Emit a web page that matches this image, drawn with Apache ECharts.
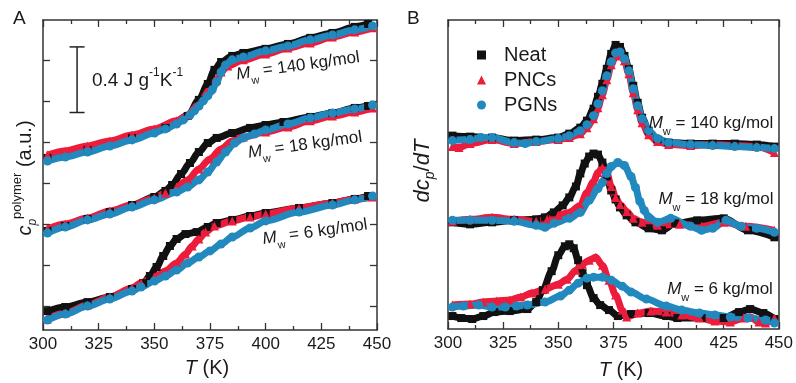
<!DOCTYPE html>
<html><head><meta charset="utf-8">
<script src="https://cdn.jsdelivr.net/npm/echarts@6/dist/echarts.min.js"></script>
<style>html,body{margin:0;padding:0;background:#fff}#c{width:796px;height:383px}</style>
</head><body><div id="c"></div>
<script>
// ---------- data (T in K, values in a.u.) ----------
const xTicks = [300, 325, 350, 375, 400, 425, 450];
const yTicksA = [0, 0.25, 0.5, 0.75, 1.0, 1.25, 1.5];
const seriesNames = ['Neat', 'PNCs', 'PGNs'];
const mwLabels = ['140', '18', '6'];

// Panel A: c_p (J g^-1 K^-1, offset curves)
const a140Neat = [[302,0.903],[320,0.952],[340,1.025],[355,1.086],[365,1.159],[370,1.257],[374,1.354],[377,1.440],[380,1.488],[385,1.525],[390,1.543],[400,1.568],[410,1.598],[420,1.635],[430,1.665],[440,1.702],[446,1.720]];
const a140PNC = [[302,0.921],[310,0.946],[320,0.976],[330,1.007],[340,1.043],[350,1.080],[360,1.129],[365,1.165],[370,1.232],[375,1.318],[378,1.379],[380,1.427],[383,1.464],[390,1.501],[400,1.537],[410,1.574],[420,1.604],[430,1.641],[440,1.671],[448,1.696]];
const a140PGN = [[302,0.884],[310,0.909],[320,0.939],[330,0.976],[340,1.013],[350,1.055],[355,1.080],[360,1.110],[363,1.135],[366,1.165],[368,1.190],[370,1.220],[372,1.251],[374,1.281],[376,1.318],[378,1.366],[380,1.427],[382,1.470],[385,1.501],[390,1.519],[400,1.556],[410,1.586],[420,1.623],[430,1.653],[440,1.684],[448,1.708]];

const a18Neat = [[302,0.458],[310,0.488],[320,0.531],[330,0.573],[340,0.616],[350,0.665],[355,0.702],[358,0.738],[362,0.805],[366,0.872],[370,0.939],[374,0.994],[378,1.025],[385,1.055],[393,1.086],[400,1.104],[408,1.122],[420,1.153],[430,1.177],[440,1.208],[446,1.220]];
const a18PNC = [[302,0.470],[310,0.500],[320,0.537],[330,0.580],[340,0.616],[350,0.659],[355,0.689],[360,0.726],[365,0.769],[370,0.836],[375,0.897],[380,0.958],[385,1.007],[390,1.031],[400,1.061],[410,1.092],[420,1.129],[430,1.159],[440,1.183],[448,1.208]];
const a18PGN = [[302,0.445],[310,0.482],[320,0.525],[330,0.561],[340,0.604],[350,0.647],[360,0.695],[365,0.726],[370,0.769],[374,0.817],[378,0.878],[382,0.939],[386,0.994],[390,1.025],[395,1.049],[400,1.074],[410,1.110],[420,1.147],[430,1.177],[440,1.202],[448,1.226]];

const a6Neat = [[302,-0.031],[310,-0.006],[320,0.024],[330,0.055],[340,0.104],[345,0.140],[348,0.183],[351,0.238],[354,0.305],[357,0.366],[360,0.409],[364,0.439],[369,0.451],[374,0.482],[378,0.506],[385,0.525],[393,0.549],[400,0.567],[415,0.598],[430,0.628],[440,0.653],[446,0.671]];
const a6PNC = [[302,-0.079],[310,-0.043],[320,0.006],[330,0.055],[340,0.110],[344,0.140],[350,0.177],[355,0.214],[360,0.262],[364,0.317],[367,0.366],[370,0.409],[373,0.451],[377,0.488],[385,0.519],[393,0.543],[400,0.561],[415,0.598],[430,0.628],[440,0.653],[448,0.665]];
const a6PGN = [[302,-0.085],[310,-0.049],[320,0.000],[330,0.043],[340,0.092],[344,0.116],[350,0.153],[355,0.183],[360,0.220],[365,0.262],[370,0.299],[375,0.336],[380,0.378],[385,0.421],[393,0.476],[400,0.519],[415,0.573],[430,0.616],[440,0.647],[448,0.671]];

// Panel B: dc_p/dT (a.u., offset curves)
const b140Neat = [[302,1.94],[310,1.93],[320,1.92],[330,1.89],[340,1.90],[350,1.92],[355,1.96],[360,2.02],[363,2.09],[366,2.21],[368,2.33],[370,2.46],[372,2.61],[374,2.76],[376,2.85],[378,2.83],[380,2.74],[382,2.61],[384,2.44],[386,2.27],[388,2.12],[391,1.99],[395,1.90],[400,1.87],[410,1.86],[420,1.86],[430,1.86],[440,1.85],[448,1.83]];
const b140PNC = [[302,1.83],[305,1.82],[310,1.86],[320,1.90],[330,1.86],[340,1.88],[350,1.90],[355,1.92],[360,1.96],[363,2.02],[366,2.11],[368,2.22],[370,2.35],[372,2.50],[374,2.65],[376,2.74],[378,2.76],[380,2.69],[382,2.56],[384,2.37],[386,2.20],[388,2.07],[391,1.95],[395,1.88],[400,1.85],[410,1.84],[420,1.85],[430,1.84],[440,1.83],[448,1.77]];
const b140PGN = [[302,1.89],[310,1.90],[315,1.92],[320,1.92],[330,1.87],[335,1.86],[340,1.88],[350,1.91],[355,1.94],[360,1.99],[363,2.05],[366,2.14],[368,2.26],[370,2.39],[372,2.54],[374,2.68],[376,2.77],[378,2.78],[380,2.71],[382,2.59],[384,2.41],[386,2.24],[388,2.11],[391,1.99],[395,1.91],[400,1.87],[410,1.85],[420,1.84],[430,1.83],[440,1.82],[448,1.81]];

const b18Neat = [[302,1.07],[310,1.05],[320,1.07],[330,1.09],[340,1.10],[344,1.12],[348,1.17],[352,1.24],[355,1.32],[358,1.43],[360,1.56],[362,1.66],[364,1.73],[366,1.76],[368,1.75],[370,1.67],[372,1.53],[374,1.39],[376,1.30],[378,1.22],[381,1.14],[385,1.07],[391,1.01],[397,0.99],[403,1.06],[413,1.09],[425,1.11],[436,0.99],[448,0.92]];
const b18PNC = [[302,1.08],[310,1.10],[320,1.12],[330,1.10],[340,1.08],[345,1.10],[350,1.14],[355,1.17],[360,1.24],[363,1.37],[366,1.48],[368,1.57],[370,1.62],[372,1.57],[374,1.43],[376,1.32],[378,1.25],[381,1.18],[384,1.11],[388,1.07],[395,1.04],[405,1.05],[415,1.03],[425,1.07],[435,1.03],[448,0.99]];
const b18PGN = [[302,1.09],[310,1.09],[320,1.09],[330,1.08],[340,1.04],[344,1.02],[348,1.06],[355,1.11],[360,1.17],[364,1.29],[368,1.41],[370,1.47],[372,1.56],[374,1.63],[377,1.67],[380,1.64],[383,1.53],[385,1.42],[387,1.28],[389,1.19],[391,1.12],[395,1.07],[401,1.11],[410,1.03],[415,0.99],[420,1.01],[426,1.09],[433,1.03],[440,1.01],[448,0.97]];

const b6Neat = [[302,0.13],[306,0.11],[311,0.10],[316,0.13],[321,0.17],[328,0.18],[336,0.20],[340,0.27],[343,0.39],[347,0.58],[350,0.74],[353,0.83],[355,0.85],[357,0.81],[359,0.69],[361,0.56],[363,0.44],[366,0.31],[369,0.24],[373,0.19],[377,0.13],[383,0.15],[391,0.16],[399,0.13],[404,0.11],[415,0.11],[425,0.11],[432,0.17],[437,0.20],[443,0.16],[448,0.10]];
const b6PNC = [[302,0.24],[310,0.25],[316,0.27],[322,0.28],[328,0.29],[333,0.32],[338,0.36],[344,0.40],[350,0.45],[354,0.50],[358,0.59],[361,0.65],[364,0.69],[367,0.72],[370,0.64],[373,0.49],[376,0.34],[379,0.19],[381,0.12],[386,0.16],[392,0.18],[399,0.17],[406,0.14],[414,0.11],[421,0.08],[428,0.07],[434,0.11],[437,0.12],[441,0.07],[444,0.06],[448,0.11]];
const b6PGN = [[302,0.22],[307,0.23],[314,0.24],[320,0.22],[326,0.22],[331,0.23],[336,0.24],[344,0.27],[351,0.33],[355,0.39],[359,0.46],[363,0.51],[366,0.52],[370,0.52],[374,0.49],[379,0.43],[383,0.37],[390,0.30],[399,0.23],[406,0.19],[414,0.16],[421,0.14],[428,0.12],[436,0.11],[444,0.09],[448,0.06]];

// scale bar: 0.4 J g^-1 K^-1
const scaleBar = [[315.3, 1.18, 1.58]];

// ---------- chart ----------
const FONT = 'Liberation Sans, Arial, sans-serif';
const AX = '#333';
const COLORS = {Neat: '#111111', PNCs: '#ec1c3c', PGNs: '#2289be'};
const SYMBOLS = {Neat: 'rect', PNCs: 'triangle', PGNs: 'circle'};
const SIZES = {Neat: 8, PNCs: 9, PGNs: 9};

function mk(name, data, xi, yi) {
  const c = COLORS[name];
  return {
    type: 'line', name, data, xAxisIndex: xi, yAxisIndex: yi,
    smooth: 0.3, smoothMonotone: 'x',
    symbol: SYMBOLS[name], symbolSize: SIZES[name], showSymbol: true,
    lineStyle: {color: c, width: 7}, itemStyle: {color: c},
    silent: true, animation: false, emphasis: {disabled: true}
  };
}

const panelA = {Neat: [a140Neat, a18Neat, a6Neat], PNCs: [a140PNC, a18PNC, a6PNC], PGNs: [a140PGN, a18PGN, a6PGN]};
const panelB = {Neat: [b140Neat, b18Neat, b6Neat], PNCs: [b140PNC, b18PNC, b6PNC], PGNs: [b140PGN, b18PGN, b6PGN]};

const series = [];
seriesNames.forEach(n => {
  panelA[n].forEach(d => series.push(mk(n, d, 0, 0)));
  panelB[n].forEach(d => series.push(mk(n, d, 2, 2)));
});
series.push({
  type: 'custom', xAxisIndex: 0, yAxisIndex: 0, silent: true, animation: false,
  encode: {x: 0, y: [1, 2]},
  data: scaleBar,
  renderItem: function (params, api) {
    const p1 = api.coord([api.value(0), api.value(1)]);
    const p2 = api.coord([api.value(0), api.value(2)]);
    const w = 7.5, st = {stroke: '#222', lineWidth: 1.5};
    return {type: 'group', children: [
      {type: 'line', shape: {x1: p1[0], y1: p1[1], x2: p2[0], y2: p2[1]}, style: st},
      {type: 'line', shape: {x1: p1[0]-w, y1: p1[1], x2: p1[0]+w, y2: p1[1]}, style: st},
      {type: 'line', shape: {x1: p2[0]-w, y1: p2[1], x2: p2[0]+w, y2: p2[1]}, style: st}
    ]};
  }
});

function xAx(grid, pos, labels) {
  return {
    type: 'value', gridIndex: grid, position: pos, min: 300, max: 450, interval: 25,
    axisLine: {show: true, onZero: false, lineStyle: {color: AX, width: 1.5}},
    axisTick: {show: true, inside: true, length: 7, lineStyle: {color: AX, width: 1.3}},
    minorTick: {show: true, splitNumber: 2, length: 4, lineStyle: {color: AX, width: 1.3}},
    axisLabel: {show: labels, fontSize: 17, color: '#1a1a1a', fontFamily: FONT, margin: 6},
    splitLine: {show: false}, minorSplitLine: {show: false}
  };
}
function yAx(grid, pos, min, max, ticks) {
  return {
    type: 'value', gridIndex: grid, position: pos, min, max,
    axisLine: {show: true, onZero: false, lineStyle: {color: AX, width: 1.5}},
    axisTick: ticks ? {show: true, inside: true, length: 7, customValues: ticks, lineStyle: {color: AX, width: 1.3}} : {show: false},
    axisLabel: {show: false}, splitLine: {show: false}
  };
}

const rt = (fs) => ({
  n: {fontSize: fs, lineHeight: 28, fontFamily: FONT, fill: '#1a1a1a'},
  i: {fontSize: fs, lineHeight: 28, fontFamily: FONT, fontStyle: 'italic', fill: '#1a1a1a'},
  sb: {fontSize: Math.round(fs * 0.62), lineHeight: 10, verticalAlign: 'bottom', fontFamily: FONT, fill: '#1a1a1a'},
  sbi: {fontSize: Math.round(fs * 0.62), lineHeight: 10, verticalAlign: 'bottom', fontStyle: 'italic', fontFamily: FONT, fill: '#1a1a1a'},
  sp: {fontSize: Math.round(fs * 0.64), lineHeight: 12, verticalAlign: 'top', fontFamily: FONT, fill: '#1a1a1a'}
});
function txt(text, x, y, fs, opts) {
  opts = opts || {};
  return {
    type: 'text', x, y, rotation: opts.rot || 0, silent: true, z: 100,
    style: {text, rich: rt(fs), fontSize: fs, fontFamily: FONT, fill: '#1a1a1a',
            align: opts.align || 'center', verticalAlign: 'middle'}
  };
}
const mwText = (m) => '{i|M}{sb|w}{n| = ' + m + ' kg/mol}';
const tilt = 0.14;

const option = {
  animation: false,
  backgroundColor: '#fff',
  grid: [
    {left: 43, top: 20, width: 334, height: 310},
    {left: 448, top: 20, width: 333, height: 309}
  ],
  xAxis: [xAx(0, 'bottom', true), xAx(0, 'top', false), xAx(1, 'bottom', true), xAx(1, 'top', false)],
  yAxis: [
    yAx(0, 'left', -0.146, 1.744, yTicksA), yAx(0, 'right', -0.146, 1.744, yTicksA),
    yAx(1, 'left', 0, 3.1, null), yAx(1, 'right', 0, 3.1, null)
  ],
  legend: {
    orient: 'vertical', left: 472, top: 40, itemWidth: 9, itemHeight: 9, itemGap: 5,
    selectedMode: false,
    data: seriesNames.map(n => ({name: n, icon: SYMBOLS[n]})),
    textStyle: {fontSize: 20, lineHeight: 20, color: '#1a1a1a', fontFamily: FONT, padding: [0, 0, 0, 13]}
  },
  graphic: [
    txt('{n|A}', 13, 19, 19, {align: 'left'}),
    txt('{n|B}', 407, 19, 19, {align: 'left'}),
    txt('{n|0.4 J g}{sp|-1}{n|K}{sp|-1}', 92, 81, 19, {align: 'left'}),
    txt(mwText(mwLabels[0]), 298, 66, 17, {rot: tilt}),
    txt(mwText(mwLabels[1]), 305, 145, 17, {rot: tilt}),
    txt(mwText(mwLabels[2]), 315, 232, 17, {rot: tilt}),
    txt(mwText(mwLabels[0]), 711, 123, 17),
    txt(mwText(mwLabels[1]), 716, 199, 17),
    txt(mwText(mwLabels[2]), 720, 289, 17),
    txt('{i|T}{n| (K)}', 207, 368, 20),
    txt('{i|T}{n| (K)}', 621, 370, 20),
    txt('{i|c}{sbi|p}{sp|polymer}{n| (a.u.)}', 25, 178, 20, {rot: Math.PI / 2}),
    txt('{i|dc}{sbi|p}{n|/}{i|dT}', 423, 171, 22, {rot: Math.PI / 2})
  ],
  series
};
const chart = echarts.init(document.getElementById('c'), null, {renderer: 'canvas'});
chart.setOption(option);
</script></body></html>
